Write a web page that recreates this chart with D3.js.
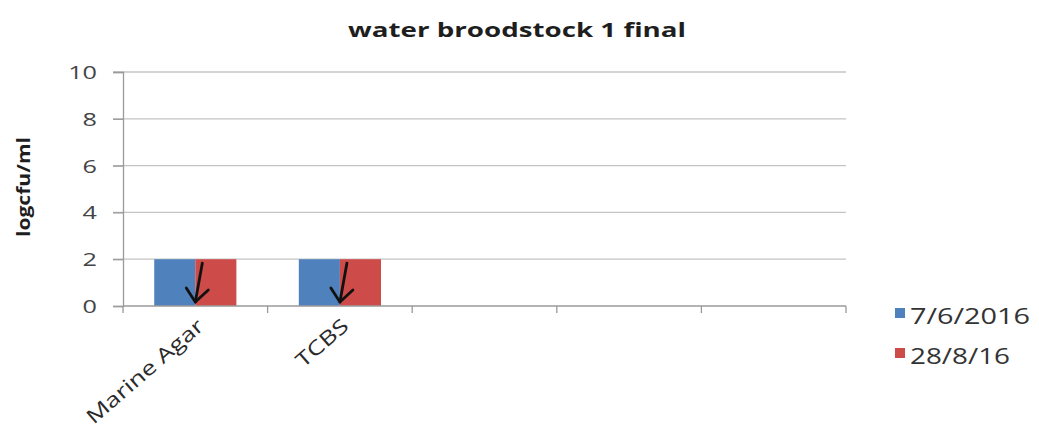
<!DOCTYPE html>
<html>
<head>
<meta charset="utf-8">
<script src="https://cdn.jsdelivr.net/npm/d3@7"></script>
<style>
  html, body { margin: 0; padding: 0; background: #fff; }
  svg { display: block; }
  text { font-family: "Open Sans", Lato, sans-serif; }
</style>
</head>
<body>
<svg id="chart" width="1039" height="432"></svg>
<script>
// Plate counts for the broodstock water samples
const categories = ["Marine Agar", "TCBS", "", " ", "  "];
const seriesNames = ["7/6/2016", "28/8/16"];
const seriesColors = ["#4F81BD", "#CD4B48"];
const series1 = [2, 2, null, null, null];
const series2 = [2, 2, null, null, null];
const yTicks = [0, 2, 4, 6, 8, 10];
// categories that carry a "below detection" arrow
const arrowCategories = ["Marine Agar", "TCBS"];

const svg = d3.select("#chart");
const margin = { left: 123, right: 193, top: 72, bottom: 126 };
const W = 1039, H = 432;

// widen glyphs horizontally by a factor, keeping the text as text
function widen(sel, f) {
  sel.each(function () {
    const w = this.getComputedTextLength();
    d3.select(this).attr("textLength", w * f).attr("lengthAdjust", "spacingAndGlyphs");
  });
}

const x = d3.scaleBand().domain(categories).range([margin.left, W - margin.right]).paddingInner(0).paddingOuter(0);
const inner = d3.scaleBand().domain(seriesNames).range([0, x.bandwidth()]).paddingInner(0).paddingOuter(0.76);
const y = d3.scaleLinear().domain([0, 10]).range([H - margin.bottom, margin.top]);

// Title
svg.append("text")
  .attr("x", 517).attr("y", 37)
  .attr("text-anchor", "middle")
  .attr("font-size", 20).attr("font-weight", "bold").attr("fill", "#1e1e1e")
  .attr("textLength", 338).attr("lengthAdjust", "spacingAndGlyphs")
  .text("water broodstock 1 final");

// Gridlines
svg.append("g").selectAll("line").data(yTicks.filter(d => d > 0)).join("line")
  .attr("x1", margin.left - 10).attr("x2", W - margin.right)
  .attr("y1", d => y(d)).attr("y2", d => y(d))
  .attr("stroke", "#c4c4c4").attr("stroke-width", 1.3);

// Y axis
const yAxis = d3.axisLeft(y).tickValues(yTicks).tickSize(10).tickPadding(16);
const gy = svg.append("g").attr("transform", `translate(${margin.left},0)`).call(yAxis);
gy.select(".domain").attr("stroke", "#9a9a9a").attr("stroke-width", 1.3);
gy.selectAll(".tick line").attr("stroke", "#9a9a9a").attr("stroke-width", 1.3);
gy.selectAll(".tick text").attr("font-size", 18).attr("fill", "#444")
  .attr("font-family", "'Open Sans', Lato, sans-serif").attr("dy", "0.36em");
widen(gy.selectAll(".tick text"), 1.4);

// Y label
svg.append("text")
  .attr("transform", `translate(30, ${(y(0) + y(10)) / 2 - 2}) rotate(-90)`)
  .attr("text-anchor", "middle")
  .attr("font-size", 18).attr("font-weight", "bold").attr("fill", "#1e1e1e")
  .attr("textLength", 100).attr("lengthAdjust", "spacingAndGlyphs")
  .text("logcfu/ml");

// Bars
const rows = categories.map((c, i) => ({ c, vals: [series1[i], series2[i]] }));
const gBars = svg.append("g");
rows.forEach(r => {
  r.vals.forEach((v, k) => {
    if (v == null) return;
    gBars.append("rect")
      .attr("x", x(r.c) + inner(seriesNames[k]))
      .attr("y", y(v))
      .attr("width", inner.bandwidth())
      .attr("height", y(0) - y(v))
      .attr("fill", seriesColors[k]);
  });
});

// X axis
const gx = svg.append("g").attr("transform", `translate(0,${y(0)})`);
gx.append("line").attr("x1", margin.left).attr("x2", W - margin.right)
  .attr("y1", 0).attr("y2", 0).attr("stroke", "#9a9a9a").attr("stroke-width", 1.3);
const bounds = categories.map(c => x(c)).concat([x(categories[categories.length - 1]) + x.bandwidth()]);
gx.selectAll("line.tk").data(bounds).join("line").attr("class", "tk")
  .attr("x1", d => d).attr("x2", d => d).attr("y1", 0).attr("y2", 7)
  .attr("stroke", "#9a9a9a").attr("stroke-width", 1.3);
const xl = gx.selectAll("text").data(categories.filter(c => c.trim() !== "")).join("text")
  .attr("transform", c => `translate(${x(c) + x.bandwidth() / 2 + 10},${22}) rotate(-41)`)
  .attr("text-anchor", "end")
  .attr("font-size", 20).attr("fill", "#2a2a2a")
  .text(d => d);
widen(xl, 1.3);

// Downward arrows drawn over the bars
const gArr = svg.append("g").attr("fill", "none").attr("stroke", "#111").attr("stroke-width", 2.8)
  .attr("stroke-linecap", "round").attr("stroke-linejoin", "round");
arrowCategories.forEach(c => {
  const i = categories.indexOf(c);
  const mid = x(c) + inner(seriesNames[1]);
  const top = y(series1[i]) + 4, bot = y(0) - 4;
  const x0 = mid + 7, x1 = mid;
  gArr.append("path").attr("d", `M${x0},${top} L${x1},${bot}`);
  gArr.append("path").attr("d", `M${x1 - 9},${bot - 14} L${x1},${bot} L${x1 + 13},${bot - 12}`);
});

// Legend
const lg = svg.append("g").attr("transform", "translate(895,0)");
seriesNames.forEach((s, k) => {
  const cy = 313 + k * 40;
  lg.append("rect").attr("x", 0).attr("y", cy - 5).attr("width", 10).attr("height", 10).attr("fill", seriesColors[k]);
  const t = lg.append("text").attr("x", 15).attr("y", cy + 11).attr("font-size", 22).attr("fill", "#333").text(s);
  t.attr("textLength", k === 0 ? 120 : 100).attr("lengthAdjust", "spacingAndGlyphs");
});
</script>
</body>
</html>
